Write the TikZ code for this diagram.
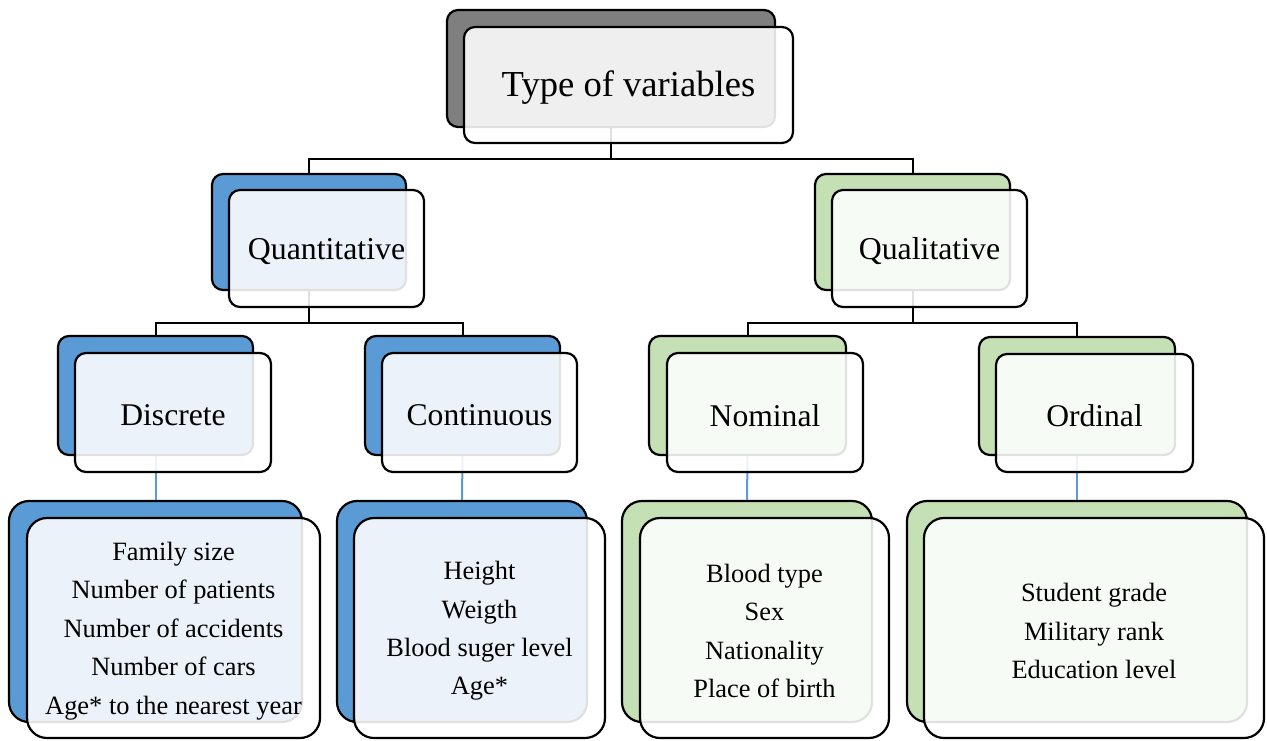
\documentclass[tikz,border=0pt]{standalone}
\usepackage{fontspec}
\setmainfont{Liberation Serif}
\usetikzlibrary{fit}
\definecolor{bblue}{HTML}{5B9BD5}
\definecolor{bgreen}{HTML}{C5E0B4}
\definecolor{bgray}{HTML}{7F7F7F}
\tikzset{
  back/.style={draw=black, line width=1.1pt, inner sep=0pt, rounded corners=5.5pt},
  front/.style={draw=black, line width=1.1pt, inner sep=0pt, rounded corners=5.5pt,
    fill=white, fill opacity=0.88},
  big/.style={rounded corners=10pt},
  conn/.style={line width=1pt, draw=black},
  bconn/.style={line width=1pt, draw=bblue},
  lbl/.style={inner sep=0pt, align=center, anchor=center, yshift=-1.5pt},
  fA/.style={lbl, font=\fontsize{18.3}{22}\selectfont},
  fB/.style={lbl, font=\fontsize{15.9}{19}\selectfont},
  fC/.style={lbl, font=\fontsize{15.8}{19}\selectfont},
  fD/.style={lbl, font=\fontsize{13.2}{19.2}\selectfont},
}
\begin{document}
\begin{tikzpicture}[x=0.5pt,y=-0.5pt]
\useasboundingbox (0,0) rectangle (1267,740);
% back boxes
\node[back, fill=bgray,  fit={(447,10) (775,127)}] (t0) {};
\node[back, fill=bblue,  fit={(212,174) (406,290)}] (qn0) {};
\node[back, fill=bgreen, fit={(815,174) (1010,290)}] (ql0) {};
\node[back, fill=bblue,  fit={(58,336) (253,455)}] (d0) {};
\node[back, fill=bblue,  fit={(365,336) (560,455)}] (c0) {};
\node[back, fill=bgreen, fit={(649,336) (846,455)}] (n0) {};
\node[back, fill=bgreen, fit={(979,337) (1175,455)}] (o0) {};
\node[back, big, fill=bblue,  fit={(9,501) (302,722)}] (dl0) {};
\node[back, big, fill=bblue,  fit={(337,501) (587,722)}] (cl0) {};
\node[back, big, fill=bgreen, fit={(622,501) (872,722)}] (nl0) {};
\node[back, big, fill=bgreen, fit={(907,501) (1247,722)}] (ol0) {};
% connectors
\draw[conn] (t0.south) -- ++(0,31) -| (qn0.north);
\draw[conn] (t0.south) -- ++(0,31) -| (ql0.north);
\draw[conn] (qn0.south) -- ++(0,32) -| (d0.north);
\draw[conn] (qn0.south) -- ++(0,32) -| (c0.north);
\draw[conn] (ql0.south) -- ++(0,32) -| (n0.north);
\draw[conn] (ql0.south) -- ++(0,32) -| (o0.north);
\draw[bconn] (d0.south) -- (dl0.north);
\draw[bconn] (c0.south) -- (cl0.north);
\draw[bconn] (n0.south) -- (nl0.north);
\draw[bconn] (o0.south) -- (ol0.north);
% front boxes
\node[front, fit={(464,27) (793,143)}] (t1) {};
\node[front, fit={(229,190) (424,307)}] (qn1) {};
\node[front, fit={(832,190) (1027,307)}] (ql1) {};
\node[front, fit={(75,353) (271,472)}] (d1) {};
\node[front, fit={(382,353) (577,472)}] (c1) {};
\node[front, fit={(667,353) (863,472)}] (n1) {};
\node[front, fit={(996,354) (1193,472)}] (o1) {};
\node[front, big, fit={(27,518) (320,738)}] (dl1) {};
\node[front, big, fit={(354,518) (605,738)}] (cl1) {};
\node[front, big, fit={(640,518) (889,738)}] (nl1) {};
\node[front, big, fit={(924,518) (1264,738)}] (ol1) {};
% texts
\node[fA] (t1t) at (t1.center) {Type of variables};
\node[fB] (qn1t) at (qn1.center) {Quantitative};
\node[fB] (ql1t) at (ql1.center) {Qualitative};
\node[fC] (d1t) at (d1.center) {Discrete};
\node[fC] (c1t) at (c1.center) {Continuous};
\node[fC] (n1t) at (n1.center) {Nominal};
\node[fC] (o1t) at (o1.center) {Ordinal};
\node[fD] (dl1t) at (dl1.center) {Family size\\Number of patients\\Number of accidents\\Number of cars\\Age* to the nearest year};
\node[fD] (cl1t) at (cl1.center) {Height\\Weigth\\Blood suger level\\Age*};
\node[fD] (nl1t) at (nl1.center) {Blood type\\Sex\\Nationality\\Place of birth};
\node[fD] (ol1t) at (ol1.center) {Student grade\\Military rank\\Education level};
\end{tikzpicture}
\end{document}
